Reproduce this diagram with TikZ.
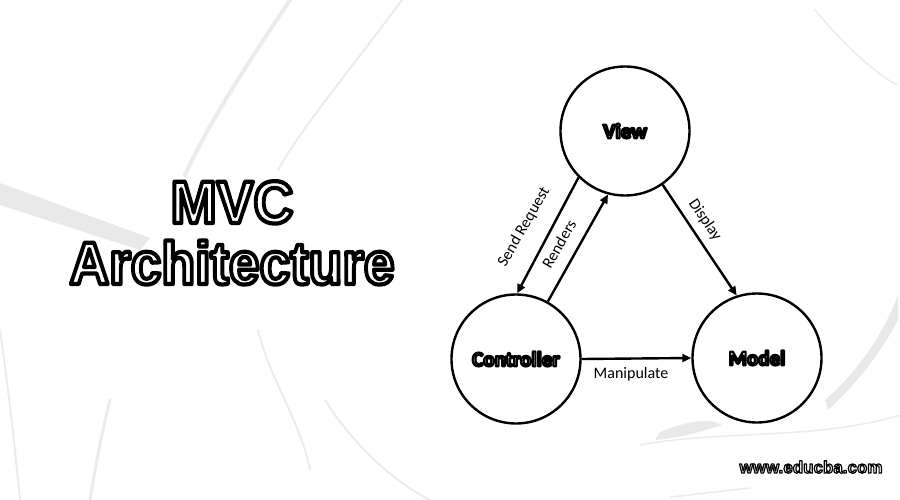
\documentclass[tikz,border=0pt]{standalone}
\usepackage{fontspec}
\setmainfont{Carlito}
\newfontfamily\titlefont{Liberation Sans}
\usetikzlibrary{arrows.meta}
\tikzset{
  comp/.style={circle, draw=black, line width=2.4pt, minimum size=129pt, inner sep=0pt},
  conn/.style={line width=2.4pt, -{Triangle[length=9pt,width=8pt]}},
  lbl/.style={font=\fontsize{16}{18}\selectfont, inner sep=0pt},
  swirl/.style={line cap=round, draw=black!8},
  compname/.style={font=\bfseries\fontsize{21}{24}\selectfont, inner sep=0pt},
  titletext/.style={font=\titlefont\bfseries\fontsize{60}{66}\selectfont, inner sep=0pt, xscale=0.92, anchor=base}
}
% outlined text: white fill, black stroke of width #1
\newcommand{\outl}[2]{{\special{pdf:literal direct q 2 Tr #1 w 1 j}\color{white}\special{pdf:literal direct 0 0 0 RG}#2\special{pdf:literal direct Q}}}
\begin{document}
\begin{tikzpicture}[x=1pt,y=-1pt]
\useasboundingbox (0,0) rectangle (900,500);
% faint background swirls
\fill[black!9] (0,183) -- (150,238) -- (140,250) -- (0,205) -- cycle;
\draw[swirl, line width=4pt] (290,0) .. controls (250,60) and (210,120) .. (185,175);
\draw[swirl, line width=2pt] (402,0) .. controls (350,70) and (300,130) .. (278,170);
\draw[swirl, line width=2pt] (258,330) .. controls (270,380) and (300,420) .. (310,470);
\draw[swirl, line width=2pt] (325,400) .. controls (350,440) and (390,480) .. (430,500);
\draw[swirl, line width=3pt] (110,400) .. controls (100,440) and (95,470) .. (90,500);
\draw[swirl, line width=2pt] (0,330) .. controls (10,400) and (15,450) .. (20,500);
\fill[black!9] (825,400) .. controls (860,370) and (885,330) .. (898,295) -- (898,320) .. controls (880,355) and (855,385) .. (828,410) -- cycle;
\fill[black!9] (660,432) .. controls (690,420) and (710,418) .. (722,425) .. controls (700,432) and (680,438) .. (655,440) -- cycle;
\draw[swirl, line width=1.5pt] (640,445) .. controls (720,430) and (820,440) .. (900,415);
\draw[swirl, line width=1.5pt] (815,10) .. controls (840,40) and (870,70) .. (897,85);
\draw[swirl, line width=1.5pt] (670,497) .. controls (700,494) and (730,490) .. (750,488);
% title
\node[titletext] (t1) at (232,223) {\outl{4.2}{MVC}};
\node[titletext] (t2) at (232,284) {\outl{4.2}{Architecture}};
% components
\node[comp] (view) at (625,131) {};
\node[comp] (ctrl) at (516,359) {};
\node[comp] (model) at (757,358) {};
\node[compname] (viewtxt) at (view) {\outl{2.2}{View}};
\node[compname] (ctrltxt) at (ctrl) {\outl{2.2}{Controller}};
\node[compname] (modeltxt) at (model) {\outl{2.2}{Model}};
% connectors
\draw[conn] (view.225) -- (ctrl.89);
\draw[conn] (ctrl.61) -- (view.255);
\draw[conn] (view.-55) -- (model.108);
\draw[conn] (ctrl.0) -- (model.180);
% labels
\node[lbl, rotate=60] (lsr) at (524,227) {Send Request};
\node[lbl, rotate=60] (lr) at (559,244) {Renders};
\node[lbl, rotate=-56] (ld) at (705,220) {Display};
\node[lbl] (lm) at (631,374) {Manipulate};
% watermark
\node[font=\titlefont\bfseries\fontsize{17}{19}\selectfont, inner sep=0pt] (wm) at (811,467) {\outl{1.2}{www.educba.com}};
\end{tikzpicture}
\end{document}
